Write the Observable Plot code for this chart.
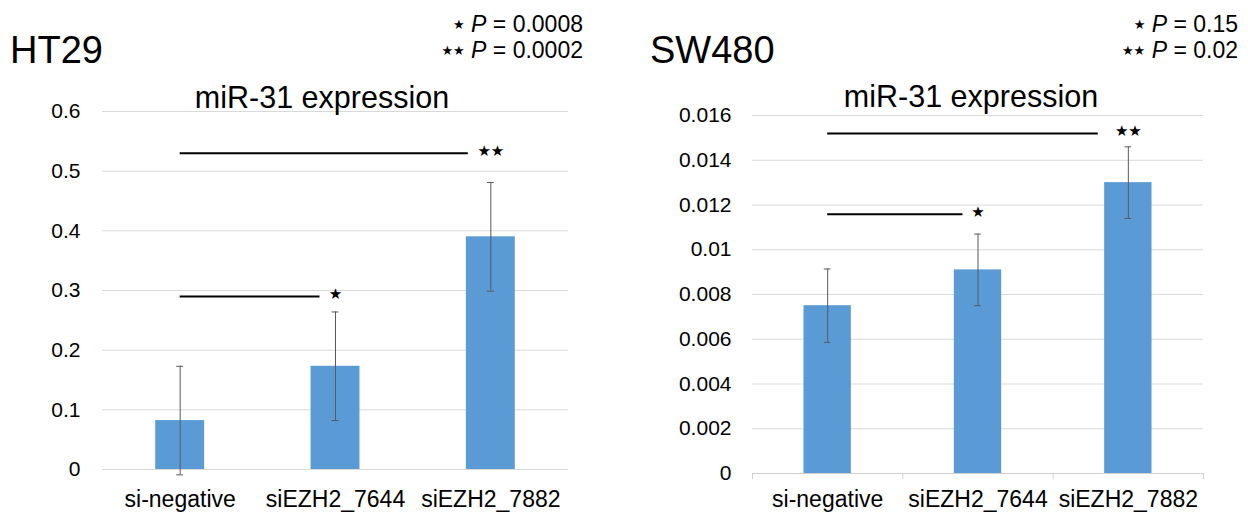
<!DOCTYPE html>
<html><head><meta charset="utf-8">
<script src="https://cdn.jsdelivr.net/npm/d3@7"></script>
<script src="https://cdn.jsdelivr.net/npm/@observablehq/plot@0.6"></script>
<style>
body{margin:0;background:#fff;}
#root{position:relative;width:1248px;height:512px;overflow:hidden;font-family:"Liberation Sans",Arial,sans-serif;}
#root svg{position:absolute;top:0;}
</style></head><body><div id="root"></div>
<script>
// ---- data ----
const categories = ["si-negative", "siEZH2_7644", "siEZH2_7882"];
const catIndex = [0, 1, 2];

const ht29Mean = [0.082, 0.173, 0.39];
const ht29Err = [0.091, 0.091, 0.091];
const ht29Ticks = [0, 0.1, 0.2, 0.3, 0.4, 0.5, 0.6];
const ht29TickLabels = ["0", "0.1", "0.2", "0.3", "0.4", "0.5", "0.6"];
const ht29SigY = [0.29, 0.53];
const ht29SigFrom = [0, 0];
const ht29SigTo = [0.9, 1.855];
const ht29SigAt = [1, 2];
const ht29SigStars = ["★", "★★"];
const ht29PLabels = ["0.0008", "0.0002"];

const sw480Mean = [0.0075, 0.0091, 0.0130];
const sw480Err = [0.00164, 0.0016, 0.0016];
const sw480Ticks = [0, 0.002, 0.004, 0.006, 0.008, 0.01, 0.012, 0.014, 0.016];
const sw480TickLabels = ["0", "0.002", "0.004", "0.006", "0.008", "0.01", "0.012", "0.014", "0.016"];
const sw480SigY = [0.01159, 0.0152];
const sw480SigFrom = [0, 0];
const sw480SigTo = [0.9, 1.8];
const sw480SigAt = [1, 2];
const sw480SigStars = ["★", "★★"];
const sw480PLabels = ["0.15", "0.02"];

const bandEdges = [-0.5, 0.5, 1.5, 2.5];
const FONT = '"Liberation Sans", Arial, sans-serif';
const BAR_HALF = 0.1575;
const CAP_HALF = 0.022;

function panel(cfg) {
  const rows = catIndex.map(i => ({i, cat: categories[i], mean: cfg.mean[i], err: cfg.err[i]}));
  const sig = cfg.sigY.map((y, k) => ({y, from: cfg.sigFrom[k], to: cfg.sigTo[k], at: cfg.sigAt[k], star: cfg.sigStars[k]}));
  const marks = [
    Plot.gridY(cfg.ticks, {stroke: "#d9d9d9", strokeOpacity: 1, strokeWidth: 1}),
    Plot.rectY(rows, {x1: d => d.i - BAR_HALF, x2: d => d.i + BAR_HALF, y1: 0, y2: "mean", fill: "#5b9bd5"}),
    Plot.ruleX(rows, {x: "i", y1: d => d.mean - d.err, y2: d => d.mean + d.err, stroke: "#595959", strokeWidth: 1}),
    Plot.ruleY(rows, {y: d => d.mean + d.err, x1: d => d.i - CAP_HALF, x2: d => d.i + CAP_HALF, stroke: "#595959", strokeWidth: 1}),
    Plot.ruleY(rows, {y: d => d.mean - d.err, x1: d => d.i - CAP_HALF, x2: d => d.i + CAP_HALF, stroke: "#595959", strokeWidth: 1}),
    Plot.ruleY(sig, {y: "y", x1: "from", x2: "to", stroke: "#000", strokeWidth: 2}),
    Plot.text(sig, {x: "at", y: "y", text: "star", fontSize: 15, dy: -2, lineAnchor: "middle", fill: "#000", fontFamily: "DejaVu Sans"}),
    Plot.axisY({ticks: cfg.ticks, tickFormat: d => cfg.tickLabels[cfg.ticks.indexOf(d)], tickSize: 0, tickPadding: cfg.yPad, fontSize: 21, fill: "#000"}),
    Plot.axisX({ticks: catIndex, tickFormat: i => categories[i], tickSize: 0, tickPadding: cfg.xPad, fontSize: 23, fill: "#000"})
  ];
  if (cfg.axisLine) {
    marks.push(Plot.ruleY([0], {stroke: "#d0d0d0", strokeWidth: 1}));
    marks.push(Plot.axisX({ticks: bandEdges, tickFormat: () => "", tickSize: 6, stroke: "#d0d0d0"}));
  }
  const svg = Plot.plot({
    width: 624, height: 512,
    marginLeft: cfg.ml, marginRight: cfg.mr, marginTop: cfg.mt, marginBottom: cfg.mb,
    style: {fontFamily: FONT, background: "transparent", overflow: "visible", color: "#000"},
    x: {type: "linear", domain: [-0.5, 2.5], axis: null},
    y: {domain: [0, cfg.ticks[cfg.ticks.length - 1]], axis: null},
    marks
  });
  svg.style.left = cfg.left + "px";
  return svg;
}

const root = document.getElementById("root");
root.appendChild(panel({
  left: 0, ml: 102, mr: 56, mt: 111, mb: 43, yPad: 22, xPad: 21,
  mean: ht29Mean, err: ht29Err, ticks: ht29Ticks, tickLabels: ht29TickLabels,
  sigY: ht29SigY, sigFrom: ht29SigFrom, sigTo: ht29SigTo, sigAt: ht29SigAt, sigStars: ht29SigStars,
  axisLine: false
}));
root.appendChild(panel({
  left: 624, ml: 128, mr: 45, mt: 115, mb: 39, yPad: 21, xPad: 17,
  mean: sw480Mean, err: sw480Err, ticks: sw480Ticks, tickLabels: sw480TickLabels,
  sigY: sw480SigY, sigFrom: sw480SigFrom, sigTo: sw480SigTo, sigAt: sw480SigAt, sigStars: sw480SigStars,
  axisLine: true
}));

// ---- overlay titles ----
const ov = d3.select(root).append("svg").attr("width", 1248).attr("height", 512).style("left", "0px")
  .attr("font-family", FONT).attr("fill", "#000");
function heading(x, y, t) { ov.append("text").attr("x", x).attr("y", y).attr("font-size", 38).text(t); }
function title(x, y) { ov.append("text").attr("x", x).attr("y", y).attr("font-size", 30.5).attr("text-anchor", "middle").text("miR-31 expression"); }
function pline(x, y, stars, val) {
  const t = ov.append("text").attr("x", x).attr("y", y).attr("font-size", 23).attr("text-anchor", "end");
  t.append("tspan").attr("font-size", 13).attr("font-family", "DejaVu Sans").attr("dy", -3).text(stars);
  t.append("tspan").attr("dy", 3).text(" ");
  t.append("tspan").attr("font-style", "italic").text("P");
  t.append("tspan").text(" = " + val);
}
heading(10, 63, "HT29");
heading(650, 63, "SW480");
title(322, 108);
title(971, 107);
pline(583, 32, ht29SigStars[0], ht29PLabels[0]);
pline(583, 58, ht29SigStars[1], ht29PLabels[1]);
pline(1238, 32, sw480SigStars[0], sw480PLabels[0]);
pline(1238, 58, sw480SigStars[1], sw480PLabels[1]);
</script></body></html>
